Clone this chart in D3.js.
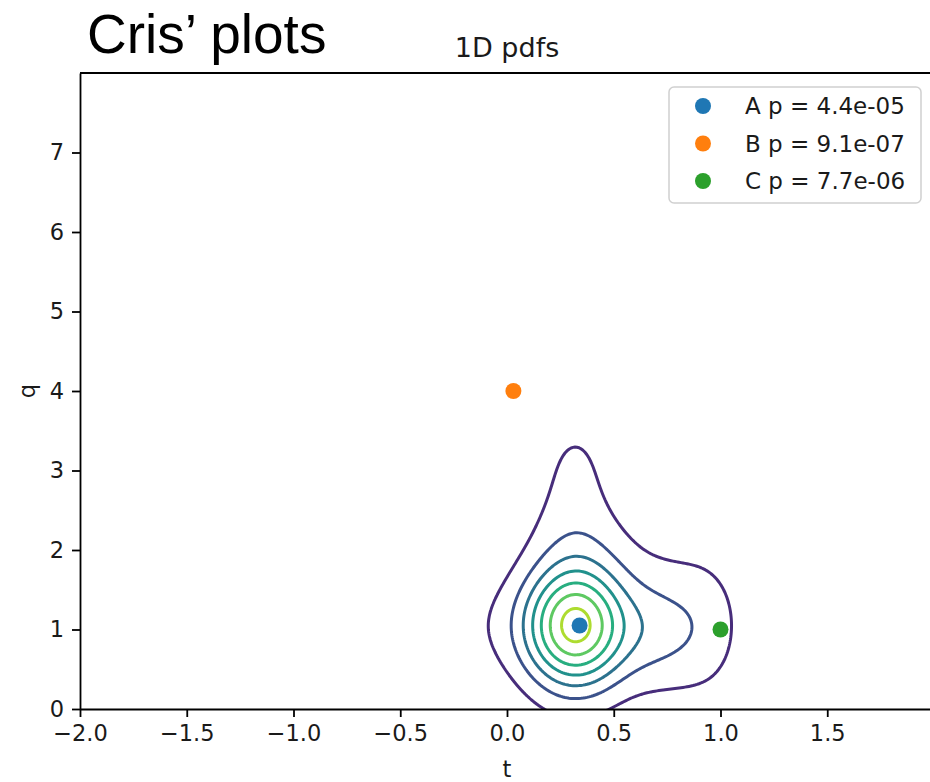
<!DOCTYPE html>
<html>
<head>
<meta charset="utf-8">
<script src="https://cdn.jsdelivr.net/npm/d3@7"></script>
<style>
  body { margin: 0; background: #fff; }
  .chart text { font-family: "DejaVu Sans", sans-serif; fill: #1a1a1a; }
  .axis text { font-size: 22.5px; }
  .axis path, .axis line { stroke: #000; stroke-width: 1.8px; }
</style>
</head>
<body>
<svg class="chart"></svg>
<script>
// points shown on the plot
var pointNames = ['A', 'B', 'C'];
var pointP = ['4.4e-05', '9.1e-07', '7.7e-06'];
var pointT = [0.34, 0.03, 1.0];
var pointQ = [1.05, 4.0, 1.0];

var bumpT = [0.32, -0.15, 0.32, 0.32, 0.70, 0.93, 0.62, 0.32];
var bumpQ = [1.04, 1.04, 2.15, 2.90, 1.00, 1.05, 2.00, -0.20];
var bumpSigmaT = [0.175, 0.15, 0.175, 0.165, 0.13, 0.14, 0.18, 0.20];
var bumpSigmaQ = [0.545, 0.545, 0.40, 0.85, 0.55, 0.68, 0.35, 0.40];
var bumpWeight = [1, 0.075, 0.06, 0.15, 0.21, 0.19, 0.03, 0.03];

// contour levels, with the peak sitting between level 7 and 8
var contourLevels = [1, 2, 3, 4, 5, 6, 7];
var levelTop = 8;
var peakLevel = 7.5;

var xTicks = [-2, -1.5, -1, -0.5, 0, 0.5, 1, 1.5];
var yTicks = [0, 1, 2, 3, 4, 5, 6, 7];

var pointColors = ['#1f77b4', '#ff7f0e', '#2ca02c'];

var width = 930, height = 782;
var plot = {left: 80, right: 934, top: 73, bottom: 709};

var chart = d3.select('.chart')
	.attr('width', width)
	.attr('height', height);

var x = d3.scaleLinear().domain([-2, 2]).range([plot.left, plot.right]),
	y = d3.scaleLinear().domain([0, 8]).range([plot.bottom, plot.top]);

var color = d3.scaleSequential(d3.interpolateViridis).domain([0, levelTop]);

function density(t, q) {
	var s = 0;
	for (var k = 0; k < bumpT.length; k++) {
		var dt = (t - bumpT[k]) / bumpSigmaT[k],
			dq = (q - bumpQ[k]) / bumpSigmaQ[k];
		s += bumpWeight[k] * Math.exp(-0.5 * (dt * dt + dq * dq));
	}
	return s;
}

// grid in pixel space, extended below q = 0 so rings close, then clipped
var cell = 2,
	gx0 = plot.left, gy0 = plot.top,
	nx = Math.ceil((plot.right - plot.left) / cell),
	ny = Math.ceil((plot.bottom + 80 - plot.top) / cell);

var values = new Array(nx * ny);
for (var j = 0; j < ny; j++) {
	var q = y.invert(gy0 + (j + 0.5) * cell);
	for (var i = 0; i < nx; i++) values[j * nx + i] = density(x.invert(gx0 + (i + 0.5) * cell), q);
}
var norm = peakLevel / d3.max(values);
values = values.map(function(v) { return v * norm; });

var contours = d3.contours().size([nx, ny]).thresholds(contourLevels)(values);
var path = d3.geoPath(d3.geoIdentity().scale(cell).translate([gx0, gy0]));

chart.append('clipPath').attr('id', 'clip')
  .append('rect')
	.attr('x', plot.left).attr('y', plot.top)
	.attr('width', plot.right - plot.left).attr('height', plot.bottom - plot.top);

chart.append('g')
	.attr('clip-path', 'url(#clip)')
  .selectAll('path')
	.data(contours)
  .enter().append('path')
	.attr('d', path)
	.attr('fill', 'none')
	.attr('stroke', function(d) { return color(d.value); })
	.attr('stroke-width', 3);

// points
chart.append('g')
  .selectAll('circle')
	.data(pointT)
  .enter().append('circle')
	.attr('cx', function(d) { return x(d); })
	.attr('cy', function(d, i) { return y(pointQ[i]); })
	.attr('r', 8)
	.attr('fill', function(d, i) { return pointColors[i]; });

// axes
chart.append('g')
	.attr('class', 'axis axis--x')
	.attr('transform', 'translate(0,' + plot.bottom + ')')
	.call(d3.axisBottom(x).tickValues(xTicks).tickFormat(d3.format('.1f')).tickSize(8).tickPadding(8).tickSizeOuter(0));

chart.append('g')
	.attr('class', 'axis axis--y')
	.attr('transform', 'translate(' + plot.left + ',0)')
	.call(d3.axisLeft(y).tickValues(yTicks).tickFormat(d3.format('d')).tickSize(8).tickPadding(8).tickSizeOuter(0));

// top spine
chart.append('line')
	.attr('x1', plot.left).attr('x2', plot.right)
	.attr('y1', plot.top).attr('y2', plot.top)
	.attr('stroke', '#000').attr('stroke-width', 1.8);

chart.append('text')
	.attr('x', (plot.left + plot.right) / 2)
	.attr('y', 777)
	.attr('text-anchor', 'middle')
	.style('font-size', '22.5px')
	.text('t');

chart.append('text')
	.attr('transform', 'translate(35,' + y(4) + ') rotate(-90)')
	.attr('text-anchor', 'middle')
	.style('font-size', '22.5px')
	.text('q');

chart.append('text')
	.attr('x', (plot.left + plot.right) / 2)
	.attr('y', 57)
	.attr('text-anchor', 'middle')
	.style('font-size', '27px')
	.text('1D pdfs');

chart.append('text')
	.attr('x', 87)
	.attr('y', 53)
	.style('font-family', '"Liberation Sans", Arial, sans-serif')
	.style('font-size', '55px')
	.style('fill', '#000')
	.text('Cris\u2019 plots');

// legend
var legend = chart.append('g').attr('transform', 'translate(669,87)');

legend.append('rect')
	.attr('width', 252).attr('height', 116)
	.attr('rx', 5)
	.attr('fill', '#fff').attr('fill-opacity', 0.8)
	.attr('stroke', '#d0d0d0').attr('stroke-width', 1.5);

var entry = legend.selectAll('.entry')
	.data(pointNames)
  .enter().append('g')
	.attr('class', 'entry')
	.attr('transform', function(d, i) { return 'translate(0,' + (19 + i * 37.5) + ')'; });

entry.append('circle')
	.attr('cx', 34).attr('r', 8)
	.attr('fill', function(d, i) { return pointColors[i]; });

entry.append('text')
	.attr('x', 76)
	.attr('dy', '0.36em')
	.style('font-size', '23px')
	.text(function(d, i) { return d + ' p = ' + pointP[i]; });
</script>
</body>
</html>
